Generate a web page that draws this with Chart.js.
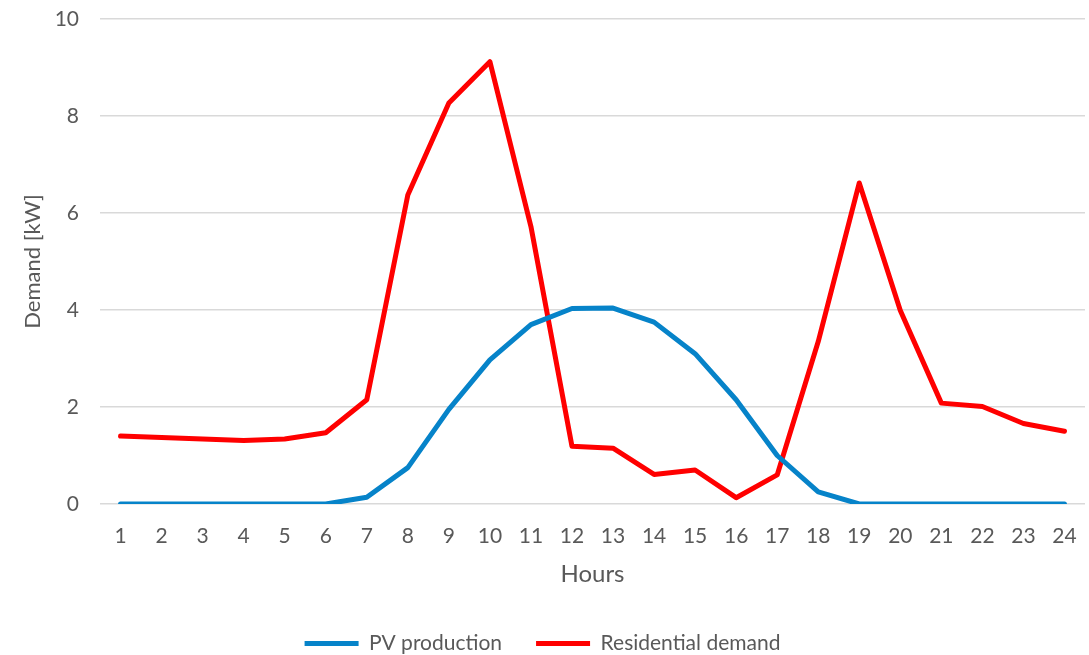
<!DOCTYPE html>
<html>
<head>
<meta charset="utf-8">
<script src="https://cdn.jsdelivr.net/npm/chart.js@4/dist/chart.umd.min.js"></script>
<style>
  html, body { margin: 0; padding: 0; background: #ffffff; }
  #wrap { width: 1089px; height: 655px; position: relative; }
</style>
</head>
<body>
<div id="wrap"><canvas id="chart" width="1089" height="655"></canvas></div>
<script>
// Hourly profile: PV output vs. household demand (kW)
const hours = ['1','2','3','4','5','6','7','8','9','10','11','12','13','14','15','16','17','18','19','20','21','22','23','24'];
const pvProduction = [0, 0, 0, 0, 0, 0, 0.14, 0.75, 1.95, 2.97, 3.70, 4.03, 4.04, 3.75, 3.10, 2.15, 1.00, 0.25, 0, 0, 0, 0, 0, 0];
const residentialDemand = [1.40, 1.37, 1.34, 1.31, 1.34, 1.47, 2.15, 6.37, 8.27, 9.12, 5.72, 1.19, 1.15, 0.61, 0.70, 0.13, 0.60, 3.35, 6.62, 3.99, 2.08, 2.01, 1.66, 1.50];
const yTicks = [0, 2, 4, 6, 8, 10];

const FONT = "Lato, 'Open Sans', sans-serif";
const TEXT = '#595959';

new Chart(document.getElementById('chart'), {
  type: 'line',
  data: {
    labels: hours,
    datasets: [
      {
        label: 'PV production',
        data: pvProduction,
        borderColor: '#0683C9',
        backgroundColor: '#0683C9',
        borderWidth: 5,
        borderCapStyle: 'round',
        borderJoinStyle: 'round',
        pointRadius: 0,
        tension: 0
      },
      {
        label: 'Residential demand',
        data: residentialDemand,
        borderColor: '#FF0000',
        backgroundColor: '#FF0000',
        borderWidth: 5,
        borderCapStyle: 'round',
        borderJoinStyle: 'round',
        pointRadius: 0,
        tension: 0
      }
    ]
  },
  options: {
    responsive: false,
    animation: false,
    layout: { padding: { left: 0, right: 4, top: 19, bottom: -9 } },
    plugins: {
      tooltip: { enabled: false },
      legend: {
        position: 'bottom',
        labels: {
          usePointStyle: true,
          pointStyle: 'line',
          pointStyleWidth: 54,
          boxHeight: 5,
          padding: 34,
          color: TEXT,
          font: { family: FONT, size: 21 }
        }
      }
    },
    scales: {
      x: {
        offset: true,
        grid: { display: false, drawTicks: false },
        border: { display: false },
        ticks: {
          color: TEXT,
          font: { family: FONT, size: 21 },
          padding: 20,
          maxRotation: 0,
          autoSkip: false
        },
        title: {
          display: true,
          text: 'Hours',
          color: TEXT,
          font: { family: FONT, size: 24 },
          padding: { top: 10, bottom: 10 }
        },
        afterFit(scale) {
          scale.height = 95;
          scale.paddingLeft = 0;
          scale.paddingRight = 0;
        }
      },
      y: {
        min: 0,
        max: 10,
        afterBuildTicks(scale) { scale.ticks = yTicks.map(v => ({ value: v })); },
        grid: { color: '#D9D9D9', lineWidth: 1.5, drawTicks: false },
        border: { display: false },
        ticks: {
          color: TEXT,
          font: { family: FONT, size: 21 },
          padding: 21
        },
        title: {
          display: true,
          text: 'Demand [kW]',
          color: TEXT,
          font: { family: FONT, size: 22 },
          padding: { top: 20, bottom: 0 }
        },
        afterFit(scale) {
          scale.width = 100;
          scale.paddingTop = 0;
          scale.paddingBottom = 0;
        }
      }
    }
  }
});
</script>
</body>
</html>
